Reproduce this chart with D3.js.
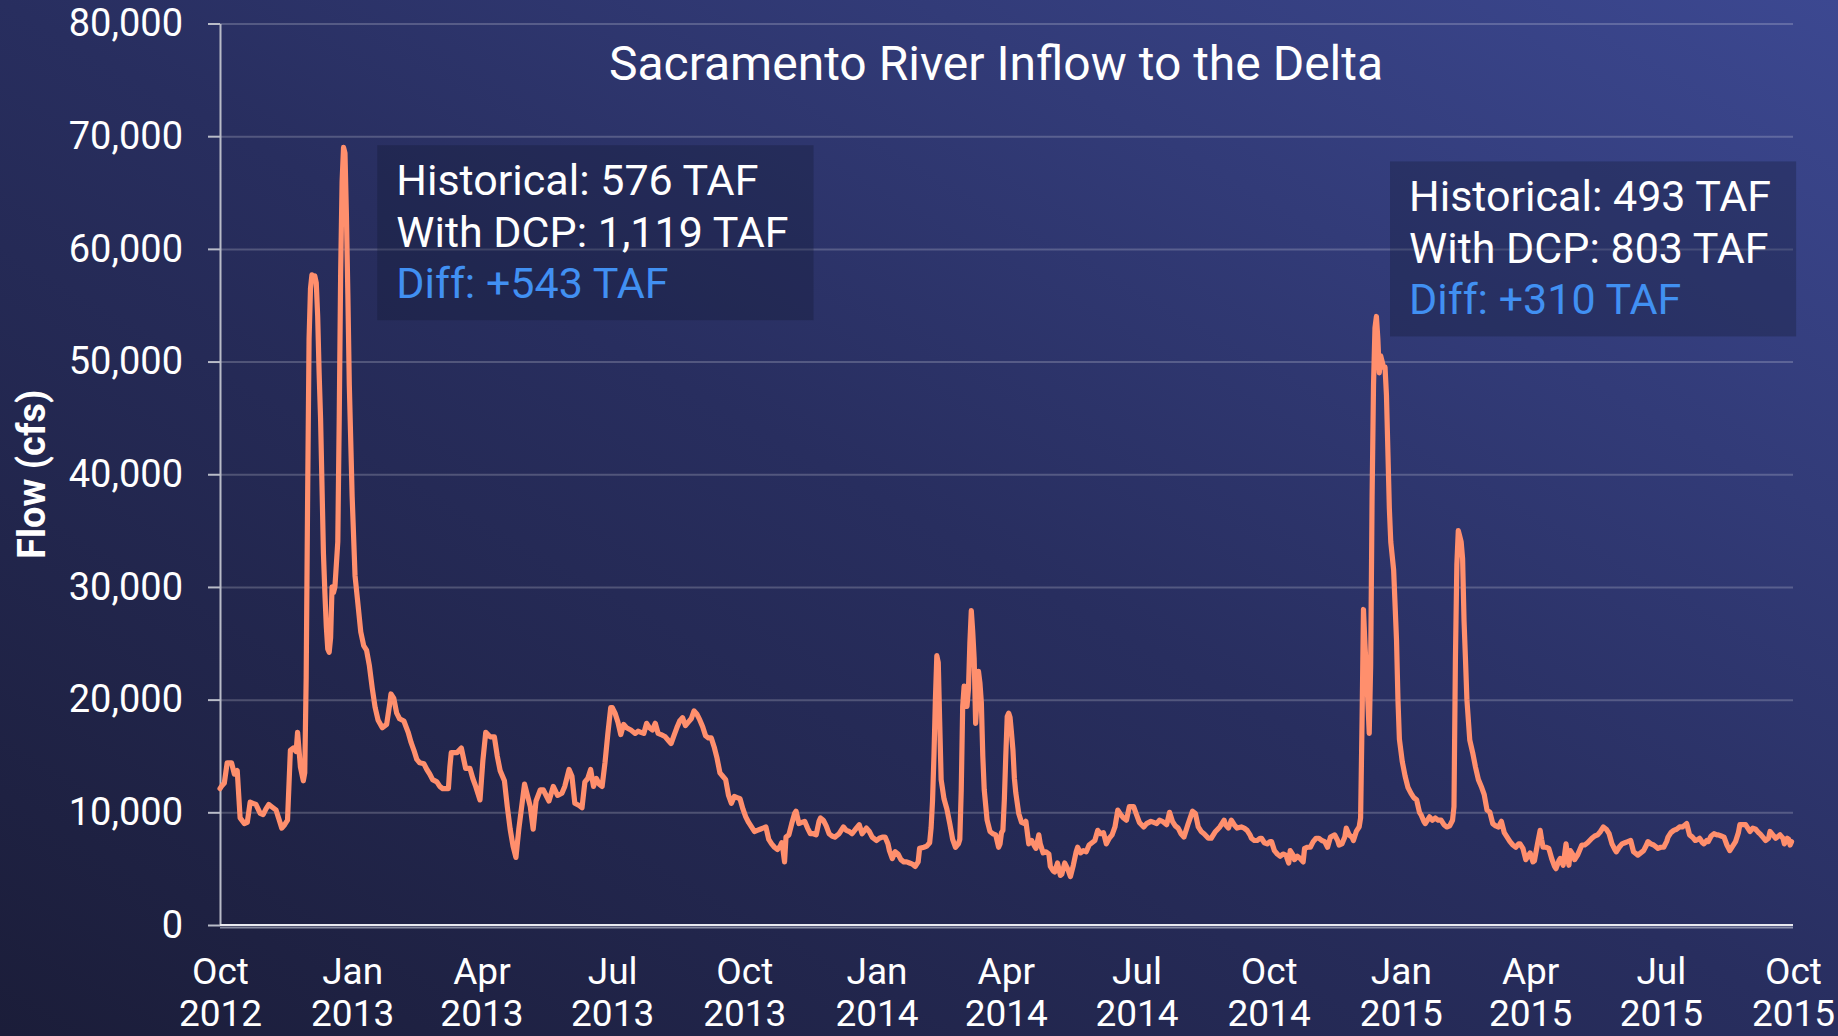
<!DOCTYPE html>
<html>
<head>
<meta charset="utf-8">
<script src="https://cdn.jsdelivr.net/npm/d3@7"></script>
<style>
html, body { margin: 0; padding: 0; background: #262b58; overflow: hidden; }
svg { display: block; font-family: Roboto, "Noto Sans", sans-serif; }
</style>
</head>
<body>
<div id="chart"></div>
<script>
//chart data: days since 1 Oct 2012, flow in cfs
const startDate = "2012-10-01"
const endDate = "2015-10-01"
const flow = [
  [0,12100],[1,12300],[3,12600],[5,14400],[8,14400],[10,13400],[12,13700],[14,9500],[17,9000],[19,9100],
  [21,10900],[23,10800],[25,10700],[28,9900],[30,9800],[32,10300],[34,10700],[36,10500],[39,10200],[41,9400],
  [43,8600],[45,8900],[47,9300],[49,15500],[51,15700],[53,15400],[54,17100],[56,14000],[58,12800],[59,13500],
  [60,22000],[61,38000],[62,52000],[63,56500],[64,57700],[65,57300],[66,57600],[67,57000],[68,54000],[69,49000],
  [70,45000],[71,39000],[72,33000],[73,29500],[74,26500],[75,24500],[76,24200],[77,25500],[78,30000],[79,29500],
  [80,30000],[81,32000],[82,34000],[83,45000],[84,58000],[85,66000],[86,69000],[87,68500],[88,63000],[89,56000],
  [90,48000],[92,38000],[94,31000],[96,28500],[98,26000],[100,24800],[102,24400],[104,23000],[106,21000],[108,19300],
  [110,18200],[113,17500],[116,17800],[118,19500],[119,20500],[121,20100],[123,18800],[125,18300],[128,18100],[131,17100],
  [133,16200],[135,15500],[137,14700],[139,14400],[142,14300],[144,13800],[146,13400],[148,12900],[151,12700],[153,12300],
  [155,12100],[159,12100],[160,14000],[161,15300],[165,15300],[168,15700],[170,14500],[171,13900],[174,13900],[176,13000],
  [178,12300],[181,11100],[183,14600],[185,17100],[188,16700],[191,16700],[193,15000],[195,13700],[198,12800],[200,10500],
  [202,8500],[204,7000],[206,6000],[208,8500],[210,10500],[212,12500],[214,11500],[216,10500],[218,8500],[220,11000],
  [223,12000],[225,12000],[229,11000],[232,12300],[235,11500],[238,11700],[240,12300],[243,13800],[245,13200],[247,10800],
  [250,10600],[252,10400],[254,12700],[256,13000],[258,13800],[260,12300],[262,13000],[264,12500],[266,12300],[268,14400],
  [270,17000],[272,19300],[273,19300],[275,18800],[277,18000],[279,16900],[281,17800],[283,17500],[286,17300],[289,17000],
  [291,17200],[293,17100],[295,17000],[297,17900],[299,17500],[301,17300],[303,17900],[305,17000],[307,16900],[310,16700],
  [312,16400],[314,16100],[316,16800],[318,17500],[320,18100],[322,18400],[324,17700],[326,18000],[328,18300],[330,19000],
  [332,18700],[334,18200],[336,17600],[338,16800],[340,16600],[342,16600],[344,15800],[346,14800],[348,13500],[350,13200],
  [352,12900],[354,11500],[356,10800],[358,11400],[360,11300],[362,11200],[364,10300],[366,9600],[368,9100],[370,8700],
  [372,8300],[374,8400],[376,8500],[378,8600],[380,8700],[382,7600],[384,7200],[386,6900],[388,6700],[390,7000],
  [391,7300],[392,6600],[393,5600],[394,7800],[396,8000],[398,9000],[400,9900],[401,10100],[403,9000],[405,9100],
  [407,9200],[409,8600],[411,8100],[413,8100],[415,8000],[417,9200],[418,9500],[420,9300],[422,8800],[424,8100],
  [426,7900],[428,7800],[431,8100],[434,8700],[436,8400],[438,8300],[440,8100],[443,8600],[445,8900],[447,8100],
  [450,8600],[452,8300],[454,7800],[457,7500],[459,7700],[461,7800],[463,7800],[465,7200],[466,6600],[468,5900],
  [470,6500],[472,6300],[474,5800],[476,5600],[478,5600],[480,5500],[482,5400],[484,5200],[486,5600],[487,6800],
  [490,6900],[492,7000],[494,7300],[495,8600],[496,11000],[497,15000],[498,20000],[499,23900],[500,23300],[501,18000],
  [502,12900],[504,11200],[506,10300],[508,9000],[510,7600],[512,6900],[514,7200],[515,7600],[516,12000],[517,19400],
  [518,21200],[519,20500],[520,19400],[521,20900],[522,25000],[523,27900],[524,26000],[525,23600],[526,17900],[527,20000],
  [528,22500],[529,21500],[530,19700],[531,15000],[532,12000],[534,9300],[536,8300],[538,8100],[540,8000],[542,6900],
  [543,7200],[544,8200],[545,8400],[546,11100],[547,15000],[548,18500],[549,18800],[550,18400],[551,17000],[552,15500],
  [553,13000],[554,11700],[556,9900],[558,9100],[560,9000],[561,9200],[563,7200],[565,7500],[567,7000],[568,6800],
  [570,8000],[571,7200],[573,6400],[575,6500],[577,6300],[578,5200],[580,4800],[581,4700],[583,5500],[585,4400],
  [586,4500],[588,5500],[590,5000],[592,4300],[594,5300],[596,6500],[597,6900],[599,6400],[601,6600],[603,6500],
  [605,7100],[607,7300],[609,7500],[611,8400],[613,8100],[615,8200],[617,7200],[619,7700],[621,8000],[623,8700],
  [625,10200],[627,9800],[629,9500],[631,9300],[633,10500],[636,10500],[638,9800],[640,9100],[643,8700],[645,9000],
  [648,9200],[650,9100],[652,9000],[654,9300],[656,9200],[659,8900],[661,10000],[663,9200],[665,8800],[667,8600],
  [669,8100],[671,7800],[673,8600],[674,9000],[677,10100],[679,9900],[681,8700],[683,8300],[685,8100],[688,7700],
  [690,7700],[693,8300],[696,8700],[699,9300],[700,8900],[702,8600],[704,9300],[706,8900],[708,8600],[711,8700],
  [713,8600],[715,8400],[717,8000],[718,7700],[720,7500],[722,7500],[724,7700],[725,7700],[727,7300],[729,7200],
  [731,7400],[732,7400],[734,6600],[736,6300],[738,6100],[740,6300],[742,6200],[744,5500],[745,6600],[747,6200],
  [748,5800],[750,6100],[752,5900],[754,5600],[755,6800],[757,6900],[759,6900],[761,7400],[763,7700],[765,7700],
  [767,7500],[769,7400],[771,6900],[773,7800],[776,8000],[778,7500],[779,7100],[781,7200],[783,7800],[784,8600],
  [786,8000],[788,7800],[789,7500],[791,8300],[793,8700],[794,9500],[795,18000],[796,28000],[797,25000],[799,20000],
  [800,17000],[801,23000],[802,38000],[803,48000],[804,53000],[805,54000],[806,52000],[807,49000],[808,50500],[809,50000],
  [810,49500],[811,49500],[812,47000],[813,42000],[814,37000],[815,34000],[817,31500],[819,25300],[820,20000],[821,16500],
  [822,15500],[823,14500],[825,13200],[827,12200],[829,11700],[831,11300],[833,11100],[835,10000],[836,9800],[838,9200],
  [839,9000],[841,9400],[842,9600],[844,9300],[846,9500],[848,9300],[850,9300],[852,8900],[854,8700],[856,8800],
  [858,9300],[859,10500],[860,23600],[861,32000],[862,35000],[863,34500],[864,34000],[865,32500],[866,27000],[867,23600],
  [868,20000],[870,16400],[872,15300],[874,14000],[876,12900],[878,12300],[880,11600],[882,10200],[884,10000],[886,9000],
  [888,8800],[890,8700],[892,9200],[894,8200],[896,7800],[898,7400],[900,7100],[902,6900],[904,7200],[905,7200],
  [907,6800],[909,5800],[911,6200],[912,6400],[914,5600],[915,5700],[917,7100],[919,8400],[920,7600],[921,6900],
  [923,6900],[925,6800],[927,5900],[929,5200],[930,5000],[932,5700],[933,5900],[935,5300],[937,7200],[939,5300],
  [940,6600],[942,6200],[943,5800],[945,6200],[948,7100],[950,7100],[952,7300],[955,7700],[957,7900],[959,8000],
  [961,8300],[963,8700],[965,8500],[967,8100],[969,7200],[971,6700],[972,6500],[974,6900],[976,7200],[978,7300],
  [980,7400],[982,7500],[984,6500],[987,6200],[989,6400],[991,6600],[993,7100],[994,7400],[996,7200],[998,7100],
  [1000,6900],[1001,6800],[1003,6900],[1005,6900],[1007,7400],[1008,7800],[1010,8200],[1012,8400],[1014,8500],[1016,8700],
  [1018,8700],[1020,8900],[1021,9000],[1023,8000],[1025,7800],[1027,7500],[1029,7600],[1030,7700],[1032,7300],[1033,7200],
  [1035,7500],[1036,7400],[1038,7900],[1040,8100],[1042,8000],[1043,8000],[1045,7900],[1047,7800],[1049,7100],[1051,6600],
  [1053,7000],[1055,7400],[1057,8200],[1058,8900],[1060,8900],[1062,8900],[1064,8500],[1065,8300],[1067,8600],[1069,8500],
  [1071,8200],[1072,8100],[1074,7800],[1076,7500],[1078,7700],[1079,8300],[1081,8000],[1083,7700],[1085,7900],[1086,8000],
  [1088,7700],[1089,7200],[1091,7700],[1092,7600],[1093,7100],[1094,7400]
]

const yTicks = [0, 10000, 20000, 30000, 40000, 50000, 60000, 70000, 80000]
const xTickDates = ["2012-10-01","2013-01-01","2013-04-01","2013-07-01","2013-10-01","2014-01-01","2014-04-01",
  "2014-07-01","2014-10-01","2015-01-01","2015-04-01","2015-07-01","2015-10-01"]

const titleText = "Sacramento River Inflow to the Delta"
const yLabel = "Flow (cfs)"
const noteLines = [
  ["Historical: 576 TAF", "With DCP: 1,119 TAF", "Diff: +543 TAF"],
  ["Historical: 493 TAF", "With DCP: 803 TAF", "Diff: +310 TAF"]
]

//layout
const width = 1838, height = 1036
const margin = {top: 23.5, right: 45, bottom: 111, left: 220}
const x0 = margin.left, x1 = width - margin.right
const y0 = height - margin.bottom, y1 = margin.top

const parse = d3.utcParse("%Y-%m-%d")
const t0 = parse(startDate)
const series = flow.map(d => ({date: d3.utcDay.offset(t0, d[0]), value: d[1]}))

const x = d3.scaleUtc().domain([t0, parse(endDate)]).range([x0, x1])
const y = d3.scaleLinear().domain([0, 80000]).range([y0, y1])

const svg = d3.select("#chart")
    .append("svg")
    .attr("width", width)
    .attr("height", height)
    .attr("viewBox", [0, 0, width, height])

const defs = svg.append("defs")
const grad = defs.append("linearGradient")
    .attr("id", "bg-grad")
    .attr("x1", 0).attr("y1", 1)
    .attr("x2", 1).attr("y2", 0)
grad.append("stop").attr("offset", "0%").attr("stop-color", "#1b1d39")
grad.append("stop").attr("offset", "50%").attr("stop-color", "#282e5f")
grad.append("stop").attr("offset", "100%").attr("stop-color", "#3c4891")

svg.append("rect")
    .attr("width", width)
    .attr("height", height)
    .attr("fill", "url(#bg-grad)")

//grid
svg.append("g")
    .attr("transform", `translate(${x0},0)`)
    .call(d3.axisLeft(y).tickValues(yTicks.slice(1)).tickSize(-(x1 - x0)).tickFormat(""))
    .call(g => g.select(".domain").remove())
    .selectAll("line")
    .attr("stroke", "rgba(255,255,255,0.2)")
    .attr("stroke-width", 2)

//y axis
const yAxis = svg.append("g")
    .attr("transform", `translate(${x0},0)`)
    .call(d3.axisLeft(y).tickValues(yTicks).tickSize(12).tickSizeOuter(0).tickPadding(25).tickFormat(d3.format(",")))
yAxis.select(".domain").attr("stroke", "#b9bcc8").attr("stroke-width", 2)
yAxis.selectAll(".tick line").attr("stroke", "#b9bcc8").attr("stroke-width", 2)
yAxis.selectAll(".tick text")
    .attr("fill", "#fff")
    .attr("font-size", 38)
    .attr("font-family", "Roboto")

//x axis
svg.append("line")
    .attr("x1", x0).attr("x2", x1)
    .attr("y1", y0 + 2.5).attr("y2", y0 + 2.5)
    .attr("stroke", "rgba(200,205,220,0.6)")
    .attr("stroke-width", 2)
svg.append("line")
    .attr("x1", x0).attr("x2", x1)
    .attr("y1", y0).attr("y2", y0)
    .attr("stroke", "#e8e9ef")
    .attr("stroke-width", 2)

const fmtMon = d3.utcFormat("%b"), fmtYear = d3.utcFormat("%Y")
const xAxis = svg.append("g")
    .attr("transform", `translate(0,${y0})`)
    .call(d3.axisBottom(x).tickValues(xTickDates.map(parse)).tickSize(0).tickFormat(""))
xAxis.select(".domain").remove()
xAxis.selectAll(".tick text")
    .attr("dy", null)
    .attr("y", null)
    .attr("fill", "#fff")
    .attr("font-size", 37)
    .attr("font-family", "Roboto")
    .selectAll("tspan")
    .data(d => [fmtMon(d), fmtYear(d)])
    .join("tspan")
    .attr("x", 0)
    .attr("y", (d, i) => i ? 101 : 59)
    .text(d => d)

//line
const line = d3.line()
    .x(d => x(d.date))
    .y(d => y(d.value))

svg.append("path")
    .datum(series)
    .attr("fill", "none")
    .attr("stroke", "#ff8f6d")
    .attr("stroke-width", 5.2)
    .attr("stroke-linejoin", "round")
    .attr("stroke-linecap", "round")
    .attr("d", line)

//title and axis label
svg.append("text")
    .attr("x", 996)
    .attr("y", 80)
    .attr("text-anchor", "middle")
    .attr("fill", "#fff")
    .attr("font-size", 48)
    .text(titleText)

svg.append("text")
    .attr("transform", `translate(32,${(y0 + y1) / 2}) rotate(-90)`)
    .attr("text-anchor", "middle")
    .attr("dominant-baseline", "central")
    .attr("fill", "#fff")
    .attr("font-size", 38)
    .attr("font-weight", "bold")
    .text(yLabel)

//annotation boxes, placed in fractions of the plot area
const notePos = [{fx: 0.1, fy: 0.865, side: "left"}, {fx: 1.002, fy: 0.847, side: "right"}]

function addNote(lines, pos){
    const g = svg.append("g")
    const rect = g.append("rect").attr("fill", "rgba(18,22,48,0.3)")
    const px = x0 + pos.fx * (x1 - x0)
    const top = y0 - pos.fy * (y0 - y1)
    const texts = g.selectAll("text")
        .data(lines).enter()
        .append("text")
        .attr("y", (d, i) => top + 50 + i * 51.5)
        .attr("font-size", 43)
        .attr("fill", (d, i) => i === 2 ? "#4190f2" : "#fff")
        .text(d => d)
    const tw = d3.max(texts.nodes(), n => n.getComputedTextLength())
    const bw = tw + 44
    const left = pos.side === "left" ? px : px - bw
    texts.attr("x", left + 19)
    rect.attr("x", left).attr("y", top).attr("width", bw).attr("height", 175)
}
noteLines.forEach((lines, i) => addNote(lines, notePos[i]))
</script>
</body>
</html>
